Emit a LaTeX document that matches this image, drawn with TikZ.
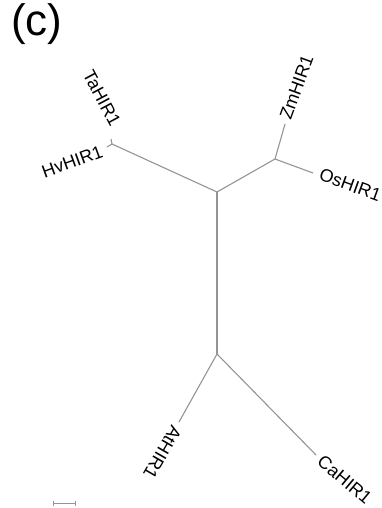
\documentclass[tikz,border=0pt]{standalone}
\usepackage{fontspec}
\setmainfont{Liberation Sans}
\begin{document}
\begin{tikzpicture}[x=1pt,y=-1pt,
  branch/.style={draw=black!42,line width=1.1pt},
  leaf/.style={inner sep=0pt,font=\fontsize{18}{21}\selectfont}]
\useasboundingbox (0,0) rectangle (382,508);
% inner nodes
\coordinate (r1) at (217,192);
\coordinate (r2) at (217,354);
\coordinate (ht) at (112,144);
\coordinate (zo) at (275,159);
% tips
\coordinate (hv) at (107,147);
\coordinate (ta) at (111,139);
\coordinate (zm) at (285,124);
\coordinate (os) at (313,173);
\coordinate (at) at (179,422);
\coordinate (ca) at (316,455);
% branches
\draw[branch] (r1) -- (r2);
\draw[branch] (r1) -- (ht);
\draw[branch] (ht) -- (hv);
\draw[branch] (ht) -- (ta);
\draw[branch] (r1) -- (zo);
\draw[branch] (zo) -- (zm);
\draw[branch] (zo) -- (os);
\draw[branch] (r2) -- (at);
\draw[branch] (r2) -- (ca);
% labels
\node[leaf,anchor=east,rotate=20] (lhv) at (102,151) {HvHIR1};
\node[leaf,anchor=east,rotate=-62] (lta) at (116,125) {TaHIR1};
\node[leaf,anchor=west,rotate=70] (lzm) at (285,119) {ZmHIR1};
\node[leaf,anchor=west,rotate=-20] (los) at (320,174) {OsHIR1};
\node[leaf,anchor=west,rotate=-120] (lat) at (177,427) {AtHIR1};
\node[leaf,anchor=west,rotate=-40] (lca) at (320,459) {CaHIR1};
% panel label
\node[inner sep=0pt,font=\fontsize{44}{50}\selectfont] (panel) at (37,24) {(c)};
% scale bar
\coordinate (sb1) at (53,503);
\coordinate (sb2) at (75,503);
\draw[branch,line width=0.9pt] (sb1) -- (sb2);
\draw[branch,line width=0.9pt] ([yshift=-2.5pt]sb1) -- ([yshift=2.5pt]sb1);
\draw[branch,line width=0.9pt] ([yshift=-2.5pt]sb2) -- ([yshift=2.5pt]sb2);
\end{tikzpicture}
\end{document}
